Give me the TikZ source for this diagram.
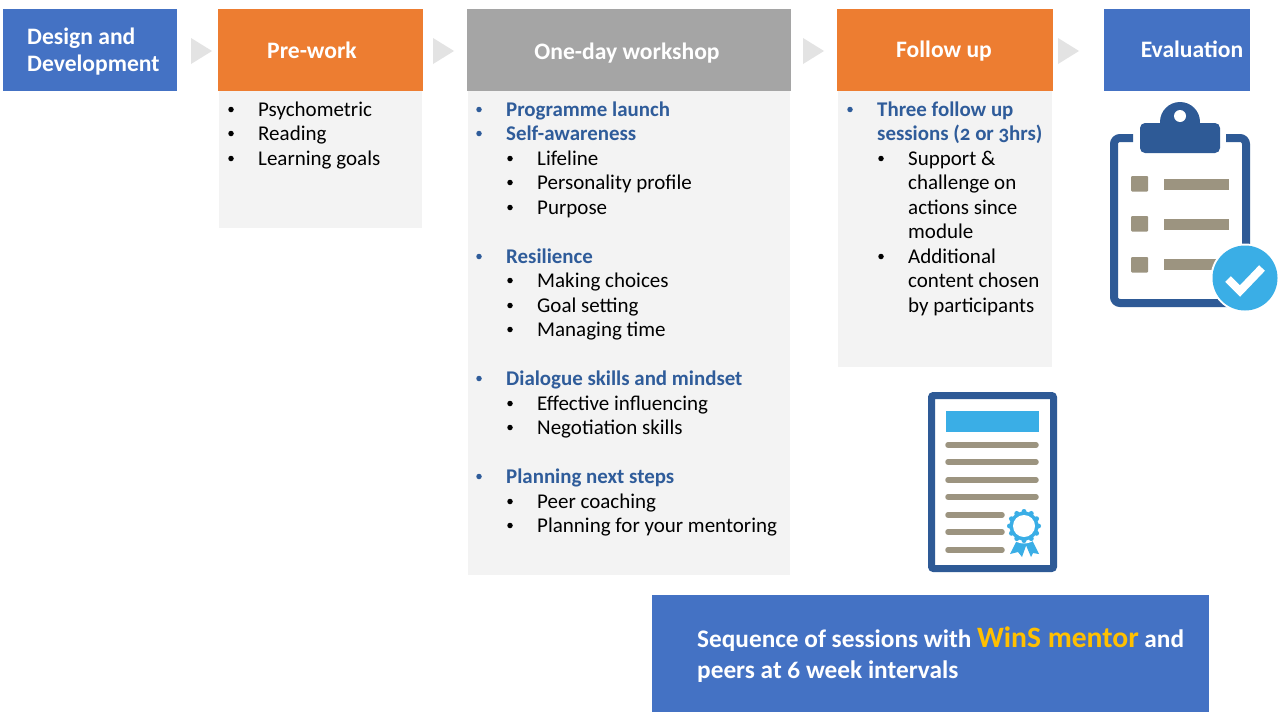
\documentclass[tikz,border=0pt]{standalone}
\usepackage{fontspec}
\setmainfont[Numbers=OldStyle]{Carlito}
\definecolor{hblue}{HTML}{4472C4}
\definecolor{horange}{HTML}{ED7D31}
\definecolor{hgrey}{HTML}{A5A5A5}
\definecolor{bodygrey}{HTML}{F3F3F3}
\definecolor{chev}{HTML}{E3E3E3}
\definecolor{headblue}{HTML}{2F5C9A}
\definecolor{iconblue}{HTML}{2E5A96}
\definecolor{taupe}{HTML}{9C9480}
\definecolor{skyb}{HTML}{3AAEE6}
\definecolor{gold}{HTML}{FFC000}
\tikzset{
  box/.style={anchor=north west,inner sep=0pt,outer sep=0pt,draw=none,text width=0pt},
  head/.style={anchor=base,inner sep=0pt,text=white,font=\fontsize{23.6}{23.6}\selectfont\bfseries},
  banner text/.style={anchor=base west,inner sep=0pt,text=white,font=\fontsize{25.3}{25.3}\selectfont\bfseries},
  txt/.style={anchor=base west,inner sep=0pt,font=\fontsize{21}{21}\selectfont},
  sub/.style={txt,text=headblue,font=\fontsize{20.9}{20.9}\selectfont\bfseries},
  bul/.style={circle,fill=black,inner sep=0pt,minimum size=5.5pt},
  bulb/.style={circle,fill=headblue,inner sep=0pt,minimum size=5.5pt},
  chevron/.style={fill=chev,draw=none},
}
\newcommand{\bx}[6]{\node[box,fill=#6,minimum width=#4pt,minimum height=#5pt] (#1) at (#2,#3) {};}
\newcommand{\li}[4]{\node[bul] (b#1) at (#2-27,#3-6.5) {}; \node[txt] (t#1) at (#2,#3) {#4};}
\newcommand{\lh}[4]{\node[bulb] (b#1) at (#2-27,#3-6.5) {}; \node[sub] (t#1) at (#2,#3) {#4};}
\begin{document}
\begin{tikzpicture}[x=1pt,y=-1pt]
\useasboundingbox (0,0) rectangle (1280,718);
\fill[white] (0,0) rectangle (1280,718);
% bodies
\bx{prebody}{219}{91}{203}{137}{bodygrey}
\bx{wsbody}{468}{91}{322}{484}{bodygrey}
\bx{fubody}{838}{91}{214}{276}{bodygrey}
% headers
\bx{design}{3}{9}{174}{82}{hblue}
\bx{pre}{218}{9}{205}{82}{horange}
\bx{ws}{467}{9}{324}{82}{hgrey}
\bx{fu}{837}{9}{216}{82}{horange}
\bx{ev}{1104}{9}{146}{82}{hblue}
\node[head,anchor=base west] (design1) at (27,44) {Design and};
\node[head,anchor=base west] (design2) at (27,71) {Development};
\node[head] (pretxt) at (312,58) {Pre-work};
\node[head] (wstxt) at (627,59) {One-day workshop};
\node[head] (futxt) at (944,57) {Follow up};
\node[head] (evtxt) at (1192,57) {Evaluation};
% chevrons
\foreach \x in {191,433,803,1058}
  \fill[chevron] (\x,38) -- (\x+21,51) -- (\x,64) -- cycle;
% pre-work
\li{p1}{258}{116}{Psychometric}
\li{p2}{258}{140}{Reading}
\li{p3}{258}{165}{Learning goals}
% workshop
\lh{w1}{506}{116}{Programme launch}
\lh{w2}{506}{140}{Self-awareness}
\li{w3}{537}{165}{Lifeline}
\li{w4}{537}{189}{Personality profile}
\li{w5}{537}{214}{Purpose}
\lh{w6}{506}{263}{Resilience}
\li{w7}{537}{287}{Making choices}
\li{w8}{537}{312}{Goal setting}
\li{w9}{537}{336}{Managing time}
\lh{w10}{506}{385}{Dialogue skills and mindset}
\li{w11}{537}{410}{Effective influencing}
\li{w12}{537}{434}{Negotiation skills}
\lh{w13}{506}{483}{Planning next steps}
\li{w14}{537}{508}{Peer coaching}
\li{w15}{537}{532}{Planning for your mentoring}
% follow up
\lh{f1}{877}{116}{Three follow up}
\node[sub] (f1b) at (877,140) {sessions (2 or 3hrs)};
\li{f2}{908}{165}{Support \&}
\node[txt] (f2b) at (908,189) {challenge on};
\node[txt] (f2c) at (908,214) {actions since};
\node[txt] (f2d) at (908,238) {module};
\li{f3}{908}{263}{Additional}
\node[txt] (f3b) at (908,287) {content chosen};
\node[txt] (f3c) at (908,312) {by participants};
% clipboard icon
\draw[iconblue,line width=8pt,rounded corners=6pt] (1133,138) -- (1114,138) -- (1114,303) -- (1246,303) -- (1246,138) -- (1226,138);
\fill[iconblue] (1180,122) circle (20);
\fill[iconblue,rounded corners=5pt] (1140,123) rectangle (1220,153);
\fill[white] (1180,116) circle (6);
\foreach \y in {176,216,257}
  \fill[taupe,rounded corners=1pt] (1131,\y) rectangle (1148,\y+15.5);
\foreach \y in {179,219} \fill[taupe] (1164,\y) rectangle (1229,\y+10.5);
\fill[taupe] (1164,259) rectangle (1218,269.5);
\fill[white] (1245,278) circle (34.5);
\fill[skyb] (1245,278) circle (32.5);
\draw[white,line width=8pt] (1228,279) -- (1240,291) -- (1262,268);
% certificate icon
\fill[white,draw=iconblue,line width=7pt,rounded corners=2pt] (931.5,395.5) rectangle (1053.5,568.5);
\fill[skyb] (945.5,411) rectangle (1038.5,432);
\foreach \y in {445,462,480,497}
  \draw[taupe,line width=5.5pt,line cap=round] (948,\y) -- (1036,\y);
\foreach \y in {515,532,550}
  \draw[taupe,line width=5.5pt,line cap=round] (948,\y) -- (1002,\y);
\fill[skyb] (1017,540) -- (1010,554) -- (1018,552) -- (1022,557) -- (1027,543) -- cycle;
\fill[skyb] (1025,543) -- (1031,557) -- (1033,553) -- (1039,554) -- (1032,540) -- cycle;
\fill[white] (1024,526) circle (17.5);
\foreach \a in {0,30,...,330}
  \fill[skyb] (1024,526) ++(\a:14.5) circle (2.5);
\fill[skyb] (1024,526) circle (14.5);
\fill[white] (1024,526) circle (11);
% bottom banner
\bx{banner}{652}{595}{557}{117}{hblue}
\node[banner text] (b1) at (697,647) {Sequence of sessions with \textcolor{gold}{\fontsize{29.6}{29.6}\selectfont WinS mentor} and};
\node[banner text] (b2) at (697,678) {peers at 6 week intervals};
\end{tikzpicture}
\end{document}
